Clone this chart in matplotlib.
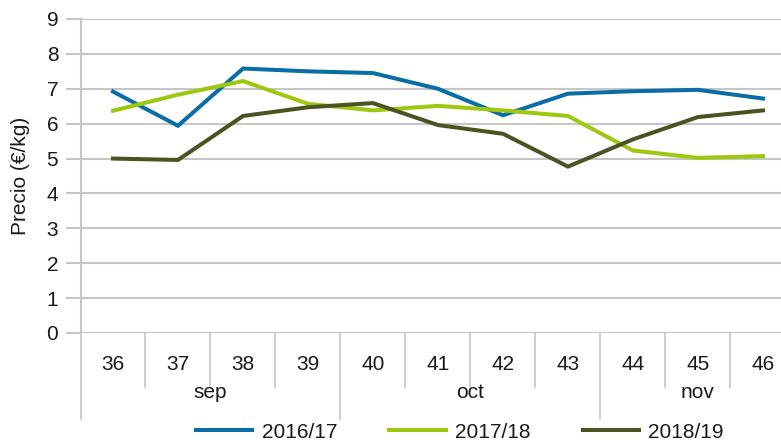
import matplotlib
matplotlib.use("Agg")
import matplotlib.pyplot as plt
import matplotlib.transforms as mtransforms
from matplotlib.font_manager import fontManager

names = {f.name for f in fontManager.ttflist}
fam = ["Liberation Sans Narrow", "Liberation Sans", "DejaVu Sans"]
fam = [f for f in fam if f in names] + ["DejaVu Sans"]
plt.rcParams['font.family'] = fam

weeks = ["36", "37", "38", "39", "40", "41", "42", "43", "44", "45", "46"]
months = ["sep", "oct", "nov"]
month_spans = [(0, 3), (4, 7), (8, 10)]
series_names = ["2016/17", "2017/18", "2018/19"]
s2016 = [6.92, 5.94, 7.58, 7.50, 7.45, 7.00, 6.24, 6.86, 6.93, 6.97, 6.72]
s2017 = [6.37, 6.83, 7.22, 6.57, 6.38, 6.51, 6.38, 6.22, 5.23, 5.02, 5.07]
s2018 = [5.00, 4.96, 6.22, 6.47, 6.59, 5.96, 5.71, 4.77, 5.55, 6.19, 6.38]
colors = ["#0A6EA6", "#9DC80F", "#4B5323"]

FS = 15
W, H = 781, 441
fig = plt.figure(figsize=(W / 100, H / 100), dpi=100)
ax = fig.add_axes([80.5 / W, 1 - 333 / H, (781 - 80.5) / W, (333 - 19) / H])

x = list(range(len(weeks)))
for data, c, n in zip([s2016, s2017, s2018], colors, series_names):
    ax.plot(x, data, color=c, lw=2.9, label=n, solid_joinstyle="miter", clip_on=False, zorder=3)

ax.set_ylim(0, 9)
ax.set_yticks(range(10))
ax.set_xlim(-0.5, 10.277)
ax.set_xticks([])
grid_c = "#C6C6C6"
ax.yaxis.grid(True, color=grid_c, lw=1.5)
ax.set_axisbelow(True)
for s in ["top", "right", "bottom"]:
    ax.spines[s].set_visible(False)
ax.spines["left"].set_color(grid_c)
ax.spines["left"].set_linewidth(1.5)
ax.tick_params(axis="y", length=11, width=1.5, color=grid_c, labelsize=FS, pad=5, labelcolor="#1a1a1a")
ax.set_ylabel("Precio (€/kg)", fontsize=FS, labelpad=12, color="#1a1a1a")

# hierarchical x axis
trans = mtransforms.blended_transform_factory(ax.transData, fig.transFigure)
def fy(py):
    return 1 - py / H
for i in range(len(weeks)):
    ax.text(i, fy(364), weeks[i], transform=trans, ha="center", va="center", fontsize=FS, color="#1a1a1a")
long_seps = [-0.5] + [e + 0.5 for (_, e) in month_spans[:-1]]
for i in range(len(weeks)):
    b = i - 0.5
    y2 = 419 if b in long_seps else 387
    ax.plot([b, b], [fy(333), fy(y2)], transform=trans, color=grid_c, lw=1.2, clip_on=False)
for m, (s, e) in zip(months, month_spans):
    ax.text((s + e) / 2, fy(393), m, transform=trans, ha="center", va="center", fontsize=FS, color="#1a1a1a")

leg = fig.legend(loc="center", bbox_to_anchor=(460 / W, 1 - 432 / H), ncol=3, frameon=False,
                 fontsize=FS, handlelength=2.7, columnspacing=2.5, handletextpad=0.45,
                 borderaxespad=0, borderpad=0)
for t in leg.get_texts():
    t.set_color("#1a1a1a")

fig.savefig("out.png", dpi=100)
